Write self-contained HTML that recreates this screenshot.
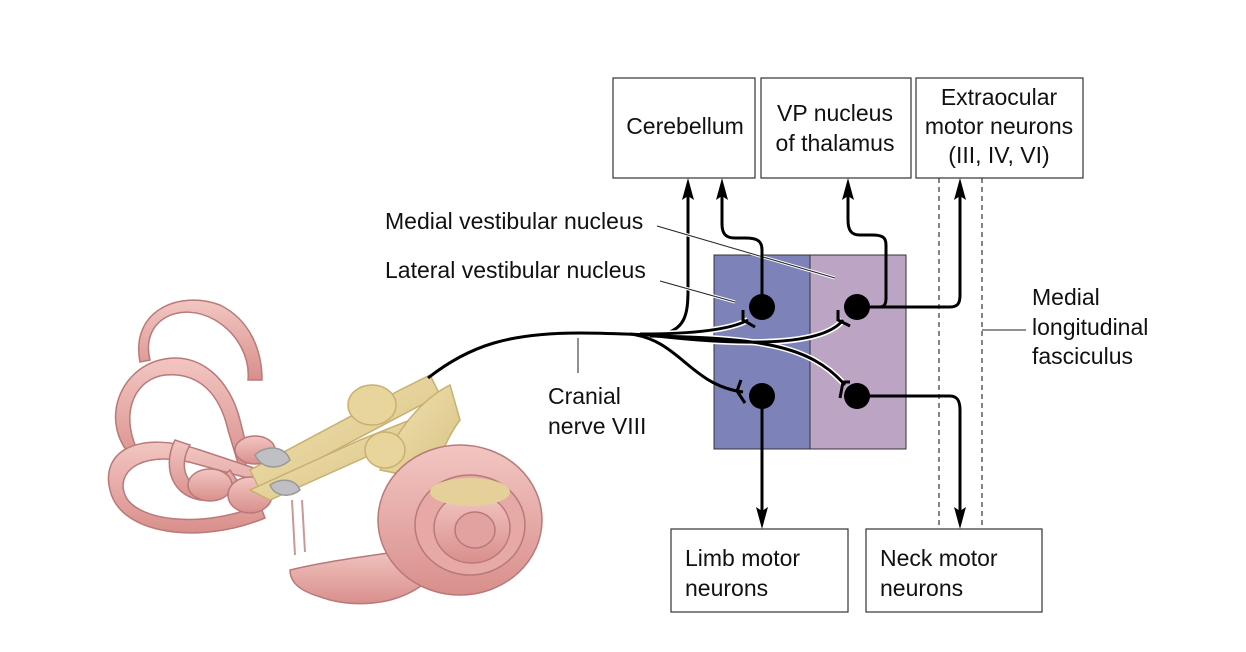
<!DOCTYPE html>
<html><head><meta charset="utf-8"><style>
html,body{margin:0;padding:0;background:#fff;}
svg{display:block;}
text{font-family:"Liberation Sans",sans-serif;font-size:23px;fill:#111;}
</style></head><body>
<svg width="1246" height="652" viewBox="0 0 1246 652" xmlns="http://www.w3.org/2000/svg">
<defs>
<linearGradient id="pk" x1="0" y1="0" x2="0" y2="1"><stop offset="0" stop-color="#f2c6c2"/><stop offset="1" stop-color="#d98f8c"/></linearGradient>
<linearGradient id="ye" x1="0" y1="0" x2="1" y2="1"><stop offset="0" stop-color="#f1e3b2"/><stop offset="1" stop-color="#d8c283"/></linearGradient>
</defs>

<!-- ear illustration (approximate) -->
<g stroke="#b87a78" stroke-width="1.5">
<path d="M130,455 C100,420 120,370 160,360 C200,350 230,380 240,420 L250,460 L240,470 L228,430 C220,395 200,372 165,375 C130,380 120,420 140,455 Z" fill="url(#pk)"/>
<path d="M150,360 C140,320 180,300 215,320 C240,335 250,360 248,380 L262,380 C262,350 250,320 220,305 C180,290 130,310 140,362 Z" fill="url(#pk)"/>
<path d="M110,490 C100,450 140,430 200,450 L260,470 L262,482 L200,465 C145,448 115,470 125,495 C135,520 200,530 260,505 L265,518 C200,545 120,535 110,490 Z" fill="url(#pk)"/>
<path d="M175,440 C160,470 175,505 215,500 L240,485 L230,470 L210,488 C185,490 178,465 190,445 Z" fill="url(#pk)"/>
<ellipse cx="210" cy="485" rx="22" ry="16" fill="url(#pk)"/>
<ellipse cx="255" cy="450" rx="20" ry="14" fill="url(#pk)"/>
<ellipse cx="250" cy="495" rx="22" ry="18" fill="url(#pk)"/>
<path d="M290,570 C330,560 380,555 420,548 L440,565 C420,600 370,610 330,600 C310,594 290,588 290,570 Z" fill="url(#pk)"/>
<path d="M250,470 L400,390 L430,375 L440,395 L260,490 Z" fill="url(#ye)" stroke="#c8b070"/>
<path d="M250,490 L360,440 L410,420 L415,435 L270,500 Z" fill="url(#ye)" stroke="#c8b070"/>
<path d="M380,470 C400,420 430,395 450,385 L460,420 C445,440 440,460 430,480 Z" fill="url(#ye)" stroke="#c8b070"/>
<ellipse cx="372" cy="405" rx="24" ry="20" fill="#e8d59c" stroke="#c8b070"/>
<ellipse cx="385" cy="450" rx="20" ry="18" fill="#e8d59c" stroke="#c8b070"/>
<ellipse cx="460" cy="520" rx="82" ry="75" fill="url(#pk)"/>
<ellipse cx="470" cy="525" rx="55" ry="50" fill="#e6a9a5"/>
<ellipse cx="472" cy="528" rx="38" ry="35" fill="url(#pk)"/>
<ellipse cx="475" cy="530" rx="20" ry="18" fill="#e2a3a0"/>
<ellipse cx="470" cy="492" rx="40" ry="14" fill="#e6d09a" stroke="none"/>
<path d="M255,455 C265,445 285,445 290,460 C280,470 262,470 255,455 Z" fill="#bfbfc4" stroke="#999"/>
<path d="M270,485 C280,478 295,478 300,490 C290,498 275,497 270,485 Z" fill="#bfbfc4" stroke="#999"/>
<path d="M292,500 L295,555 M302,500 L305,552" stroke="#c79a98" stroke-width="2"/>
</g>

<!-- nerve -->
<g fill="none" stroke="#000" stroke-width="3">
<path d="M428,378 C470,345 510,333 580,333 C620,333 650,336 690,335"/>
<path d="M660,335 C685,330 688,315 688,290 L688,192"/>
</g>

<!-- nuclei -->
<rect x="714" y="255" width="96" height="194" fill="#7d83b9" stroke="#333" stroke-width="1"/>
<rect x="810" y="255" width="96" height="194" fill="#bca4c4" stroke="#333" stroke-width="1"/>

<!-- leader lines -->
<g stroke="#fff" stroke-width="3" fill="none"><path d="M657,226 L835,278"/><path d="M660,281 L735,302"/></g>
<g stroke="#222" stroke-width="1" fill="none">
<path d="M657,226 L835,278"/><path d="M660,281 L735,302"/>
<path d="M578,338 L578,373"/><path d="M982,330 L1026,330"/>
</g>

<!-- dashed MLF -->
<g stroke="#333" stroke-width="1.2" stroke-dasharray="5,4"><path d="M939,178 V529"/><path d="M982,178 V529"/></g>

<!-- branches to synapses -->
<g fill="none" stroke-width="3">
<g stroke="#fff" stroke-width="6">
<path d="M640,334 C690,334 730,330 748,320"/>
<path d="M640,334 C720,344 820,350 843,320"/>
<path d="M650,336 C760,338 810,345 845,385"/>
</g>
<g stroke="#000">
<path d="M640,334 C690,334 730,330 748,320"/>
<path d="M640,334 C720,344 820,350 843,320"/>
<path d="M650,336 C760,338 810,345 845,385"/>
<path d="M630,334 C680,340 690,385 743,392"/>
</g>
</g>
<!-- synapse terminals (Y shapes) -->
<g stroke="#000" stroke-width="3" fill="none">
<path d="M743,310 L743,320 L755,327"/>
<path d="M838,310 L838,320 L850,326"/>
<path d="M741,380 L737,391 L745,403"/>
<path d="M843,382 L850,382 M843,382 L840,398"/>
</g>

<!-- outputs -->
<g fill="none" stroke="#000" stroke-width="3">
<path d="M762,300 L762,250 C762,240 756,238 745,238 L735,238 C726,238 722,234 722,224 L722,192"/>
<path d="M860,307 L880,307 C885,307 886,303 886,298 L886,245 C886,237 882,235 872,235 L860,235 C851,235 848,230 848,220 L848,192"/>
<path d="M860,307 L950,307 C958,307 960,303 960,295 L960,192"/>
<path d="M762,400 L762,515"/>
<path d="M860,396 L950,396 C958,396 960,402 960,410 L960,515"/>
</g>
<!-- arrowheads -->
<g fill="#000">
<path d="M682,200 L688,178 L694,200 L688,196 Z"/>
<path d="M716,200 L722,178 L728,200 L722,196 Z"/>
<path d="M842,200 L848,178 L854,200 L848,196 Z"/>
<path d="M954,200 L960,178 L966,200 L960,196 Z"/>
<path d="M756,507 L762,529 L768,507 L762,511 Z"/>
<path d="M954,507 L960,529 L966,507 L960,511 Z"/>
</g>
<g fill="#000"><circle cx="762" cy="307" r="13"/><circle cx="857" cy="307" r="13"/><circle cx="762" cy="396" r="13"/><circle cx="857" cy="396" r="13"/></g>

<!-- boxes -->
<g fill="#fff" stroke="#333" stroke-width="1.2">
<rect x="613" y="78" width="142" height="100"/>
<rect x="761" y="78" width="150" height="100"/>
<rect x="916" y="78" width="167" height="100"/>
<rect x="671" y="529" width="177" height="83"/>
<rect x="866" y="529" width="176" height="83"/>
</g>
<text x="685" y="134" text-anchor="middle">Cerebellum</text>
<text x="835" y="121" text-anchor="middle">VP nucleus</text>
<text x="835" y="151" text-anchor="middle">of thalamus</text>
<text x="999" y="105" text-anchor="middle">Extraocular</text>
<text x="999" y="134" text-anchor="middle">motor neurons</text>
<text x="999" y="163" text-anchor="middle">(III, IV, VI)</text>
<text x="685" y="566">Limb motor</text>
<text x="685" y="596">neurons</text>
<text x="880" y="566">Neck motor</text>
<text x="880" y="596">neurons</text>
<text x="385" y="229">Medial vestibular nucleus</text>
<text x="385" y="278">Lateral vestibular nucleus</text>
<text x="548" y="404">Cranial</text>
<text x="548" y="434">nerve VIII</text>
<text x="1032" y="305">Medial</text>
<text x="1032" y="335">longitudinal</text>
<text x="1032" y="364">fasciculus</text>
</svg>
</body></html>
